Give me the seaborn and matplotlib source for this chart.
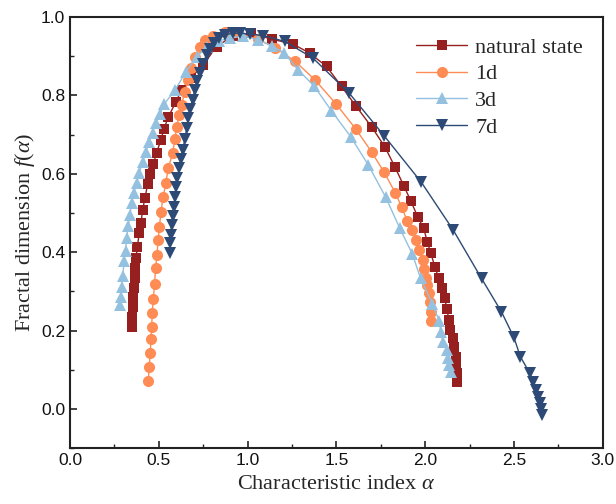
import matplotlib
matplotlib.use("Agg")
import matplotlib.pyplot as plt
from matplotlib.ticker import MultipleLocator
import seaborn as sns
import pandas as pd

natural_alpha = [0.347,0.352,0.355,0.357,0.360,0.364,0.368,0.372,0.379,0.390,0.400,0.409,0.422,0.437,0.450,0.469,0.488,0.512,0.529,0.553,0.597,0.628,0.680,0.750,0.825,0.917,1.020,1.135,1.257,1.350,1.445,1.529,1.610,1.698,1.773,1.829,1.880,1.919,1.957,1.992,2.011,2.032,2.054,2.075,2.095,2.110,2.122,2.133,2.142,2.154,2.161,2.172,2.176,2.180,2.180]
natural_f = [0.210,0.235,0.260,0.285,0.308,0.333,0.360,0.385,0.414,0.448,0.475,0.508,0.538,0.573,0.600,0.625,0.654,0.687,0.714,0.745,0.784,0.814,0.845,0.878,0.925,0.952,0.959,0.944,0.931,0.908,0.874,0.823,0.773,0.720,0.669,0.618,0.569,0.531,0.491,0.461,0.427,0.397,0.363,0.335,0.308,0.282,0.255,0.228,0.202,0.180,0.158,0.133,0.112,0.091,0.069]

d1_alpha = [0.441,0.446,0.452,0.456,0.460,0.463,0.469,0.476,0.482,0.490,0.496,0.504,0.512,0.525,0.540,0.553,0.578,0.591,0.600,0.615,0.628,0.647,0.666,0.681,0.703,0.731,0.760,0.805,0.872,0.928,1.060,1.156,1.268,1.379,1.497,1.610,1.698,1.769,1.831,1.868,1.898,1.928,1.947,1.964,1.985,1.995,2.005,2.012,2.020,2.026,2.030,2.035]
d1_f = [0.072,0.108,0.142,0.179,0.208,0.244,0.280,0.318,0.360,0.394,0.430,0.465,0.503,0.542,0.577,0.614,0.653,0.688,0.719,0.750,0.776,0.810,0.840,0.870,0.898,0.925,0.942,0.953,0.962,0.961,0.943,0.922,0.887,0.840,0.779,0.714,0.656,0.604,0.552,0.515,0.480,0.457,0.431,0.406,0.380,0.356,0.335,0.315,0.295,0.274,0.248,0.225]

d3_alpha = [0.281,0.287,0.291,0.296,0.306,0.313,0.319,0.328,0.338,0.347,0.360,0.375,0.390,0.409,0.428,0.446,0.465,0.484,0.506,0.530,0.591,0.653,0.713,0.769,0.840,0.900,0.975,1.060,1.135,1.207,1.283,1.375,1.472,1.580,1.679,1.778,1.857,1.928,1.974,2.041,2.078,2.088,2.100,2.120,2.129,2.134,2.148]
d3_f = [0.265,0.286,0.310,0.339,0.378,0.404,0.436,0.467,0.495,0.525,0.552,0.576,0.603,0.629,0.657,0.682,0.705,0.731,0.752,0.778,0.813,0.861,0.898,0.925,0.940,0.946,0.952,0.942,0.927,0.908,0.866,0.824,0.761,0.695,0.623,0.540,0.461,0.395,0.333,0.268,0.225,0.197,0.171,0.150,0.131,0.112,0.095]

d7_alpha = [0.563,0.563,0.567,0.572,0.578,0.585,0.591,0.597,0.604,0.615,0.623,0.634,0.647,0.657,0.666,0.675,0.690,0.703,0.713,0.731,0.747,0.769,0.788,0.810,0.840,0.872,0.919,0.957,1.013,1.085,1.210,1.369,1.572,1.769,1.979,2.157,2.317,2.429,2.499,2.536,2.589,2.607,2.622,2.635,2.645,2.654,2.660]
d7_f = [0.397,0.423,0.444,0.469,0.492,0.516,0.542,0.567,0.589,0.614,0.637,0.661,0.688,0.716,0.742,0.765,0.789,0.814,0.836,0.858,0.881,0.904,0.918,0.935,0.946,0.955,0.959,0.959,0.957,0.953,0.938,0.895,0.806,0.697,0.578,0.457,0.333,0.248,0.183,0.133,0.091,0.069,0.048,0.031,0.014,-0.001,-0.016]

labels = ["natural state", "1d", "3d", "7d"]
series = [(natural_alpha, natural_f), (d1_alpha, d1_f), (d3_alpha, d3_f), (d7_alpha, d7_f)]
colors = ["#961F1F", "#FF8C55", "#93C1DF", "#2C4A75"]
markers = ["s", "o", "^", "v"]
msizes = [7.5, 8, 8.5, 8.5]

sns.set_theme(style="ticks")
plt.rcParams["font.family"] = ["Liberation Serif", "DejaVu Sans"]
plt.rcParams["mathtext.fontset"] = "custom"
plt.rcParams["mathtext.rm"] = "Liberation Serif"
plt.rcParams["mathtext.it"] = "Liberation Serif:italic"

fig = plt.figure(figsize=(6.16, 5.04), dpi=100)
ax = fig.add_axes([0.1136, 0.111, 0.865, 0.855])

for (a, f), lab, c, m, ms in zip(series, labels, colors, markers, msizes):
    df = pd.DataFrame({"alpha": a, "f": f})
    sns.lineplot(data=df, x="alpha", y="f", sort=False, estimator=None, ax=ax,
                 color=c, linewidth=1.0, marker=m, markersize=ms,
                 markeredgewidth=0, label=lab)

ax.set_xlim(0, 3.0)
ax.set_ylim(-0.1, 1.0)
ax.xaxis.set_major_locator(MultipleLocator(0.5))
ax.xaxis.set_minor_locator(MultipleLocator(0.25))
ax.yaxis.set_major_locator(MultipleLocator(0.2))
ax.yaxis.set_minor_locator(MultipleLocator(0.1))
ax.tick_params(which="both", direction="in", top=False, right=False, colors="#222222")
ax.tick_params(which="major", length=5, width=1.2)
ax.tick_params(which="minor", length=3, width=1.0)
for lbl in ax.get_xticklabels() + ax.get_yticklabels():
    lbl.set_fontfamily("Liberation Sans")
    lbl.set_fontsize(12.5)
    lbl.set_color("#111111")
for sp in ax.spines.values():
    sp.set_linewidth(1.5)
    sp.set_color("#222222")

ax.set_xlabel(r"Characteristic index $\it{\alpha}$", fontsize=16, labelpad=5)
ax.set_ylabel(r"Fractal dimension $f$($\it{\alpha}$)", fontsize=16, labelpad=3)

leg = ax.legend(loc="upper right", frameon=False, fontsize=16, handlelength=2.3,
                labelspacing=0.28, handletextpad=0.35, borderaxespad=0.5)

fig.savefig("out.png", dpi=100)
